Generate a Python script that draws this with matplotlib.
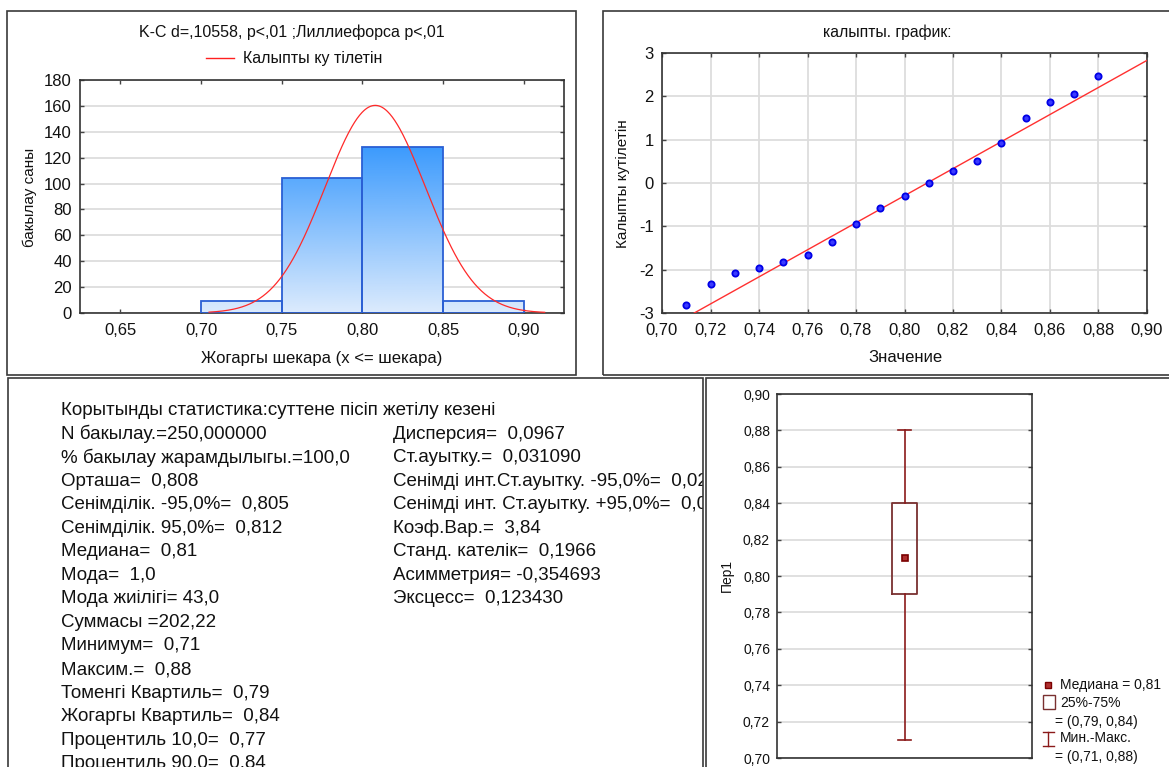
import numpy as np
import matplotlib
matplotlib.use('Agg')
import matplotlib.pyplot as plt
from matplotlib.patches import Rectangle
from matplotlib.lines import Line2D
from matplotlib.colors import LinearSegmentedColormap
from matplotlib.ticker import FuncFormatter

# ---------------- data ----------------
bin_edges = [0.70, 0.75, 0.80, 0.85, 0.90]
bin_counts = [9, 104, 128, 9]
mean_val = 0.808
std_val = 0.03109
n_obs = 250
curve_range = [0.705, 0.913]

qq_values = [0.71, 0.72, 0.73, 0.74, 0.75, 0.76, 0.77, 0.78, 0.79,
             0.80, 0.81, 0.82, 0.83, 0.84, 0.85, 0.86, 0.87, 0.88]
qq_expected = [-2.81, -2.32, -2.07, -1.96, -1.83, -1.67, -1.35, -0.94, -0.58,
               -0.29, -0.01, 0.27, 0.51, 0.92, 1.50, 1.86, 2.06, 2.47]
qq_line_x = [0.7133, 0.90]
qq_line_z = [-3.0, 2.83]

box_min, box_q1, box_med, box_q3, box_max = 0.71, 0.79, 0.81, 0.84, 0.88

stats_title = "Корытынды статистика:суттене пісіп жетілу кезені"
stats_left = ["N бакылау.=250,000000",
              "% бакылау жарамдылыгы.=100,0",
              "Орташа=  0,808",
              "Сенімділік. -95,0%=  0,805",
              "Сенімділік. 95,0%=  0,812",
              "Медиана=  0,81",
              "Мода=  1,0",
              "Мода жиілігі= 43,0",
              "Суммасы =202,22",
              "Минимум=  0,71",
              "Максим.=  0,88",
              "Томенгі Квартиль=  0,79",
              "Жогаргы Квартиль=  0,84",
              "Процентиль 10,0=  0,77",
              "Процентиль 90,0=  0,84"]
stats_right = ["Дисперсия=  0,0967",
               "Ст.ауытку.=  0,031090",
               "Сенімді инт.Ст.ауытку. -95,0%=  0,029",
               "Сенімді инт. Ст.ауытку. +95,0%=  0,034",
               "Коэф.Вар.=  3,84",
               "Станд. кателік=  0,1966",
               "Асимметрия= -0,354693",
               "Эксцесс=  0,123430"]

# ---------------- layout helpers ----------------
W, H = 1169, 767
DPI = 100
plt.rcParams['font.family'] = ['Liberation Sans', 'DejaVu Sans']
plt.rcParams['axes.unicode_minus'] = False

fig = plt.figure(figsize=(W / DPI, H / DPI), dpi=DPI)
fig.patch.set_facecolor('white')


def ax_px(l, t, r, b):
    return fig.add_axes([l / W, 1 - b / H, (r - l) / W, (b - t) / H])


def ftext(x, y, s, **kw):
    return fig.text(x / W, 1 - y / H, s, **kw)


def frame(l, t, r, b):
    fig.add_artist(Rectangle((l / W, 1 - b / H), (r - l) / W, (b - t) / H,
                             transform=fig.transFigure, fill=False,
                             ec='#3a3a3a', lw=1.2))


def comma(fmt):
    return FuncFormatter(lambda v, p: fmt.format(v).replace('.', ','))


def style_axes(ax, labelsize):
    for s in ax.spines.values():
        s.set_color('#333333')
        s.set_linewidth(1.2)
    ax.tick_params(direction='in', length=3, width=1, color='#444444',
                   top=True, right=True, labelsize=labelsize, labelcolor='#111111')


TXT = '#111111'

# panel frames
frame(7, 11, 576, 375)
frame(603, 11, 1180, 375)
frame(8, 378, 703, 780)
frame(706, 378, 1180, 780)

# ---------------- panel 1: histogram ----------------
ax1 = ax_px(80, 80, 564, 313)
cmap = LinearSegmentedColormap.from_list('g', ['#dcebfd', '#3d9bfd'])
cmax = max(bin_counts)
for x0, x1, c in zip(bin_edges[:-1], bin_edges[1:], bin_counts):
    grad = np.linspace(0, c, 200).reshape(-1, 1)
    ax1.imshow(grad, extent=(x0, x1, 0, c), origin='lower', aspect='auto',
               cmap=cmap, vmin=0, vmax=cmax, zorder=2)
ax1.bar(bin_edges[:-1], bin_counts, width=np.diff(bin_edges), align='edge',
        fill=False, edgecolor='#2a5fd4', lw=1.3, zorder=3)
bw = bin_edges[1] - bin_edges[0]
xs = np.linspace(curve_range[0], curve_range[1], 400)
ys = n_obs * bw * np.exp(-0.5 * ((xs - mean_val) / std_val) ** 2) / (std_val * np.sqrt(2 * np.pi))
ax1.plot(xs, ys, color='#ff2a2a', lw=0.9, zorder=4)
ax1.set_xlim(0.625, 0.925)
ax1.set_ylim(0, 180)
ax1.set_xticks([0.65, 0.70, 0.75, 0.80, 0.85, 0.90])
ax1.set_yticks(np.arange(0, 181, 20))
ax1.xaxis.set_major_formatter(comma('{:.2f}'))
ax1.yaxis.grid(True, color='#dddddd', lw=1.3)
ax1.set_axisbelow(True)
style_axes(ax1, 12)
ax1.tick_params(axis='x', pad=7)
ax1.tick_params(axis='y', pad=6)

ftext(292, 32, "K-C d=,10558, p<,01 ;Лиллиефорса p<,01", ha='center', va='center',
      fontsize=11.5, color=TXT)
fig.add_artist(Line2D([206 / W, 234 / W], [1 - 58 / H, 1 - 58 / H], color='#ff2020', lw=1))
ftext(243, 58, "Калыпты ку тілетін", ha='left', va='center', fontsize=11.5, color=TXT)
ftext(30, 197, "бакылау саны", rotation=90, ha='center', va='center', fontsize=11, color=TXT)
ftext(322, 358, "Жогаргы шекара (x <= шекара)", ha='center', va='center', fontsize=12, color=TXT)

# ---------------- panel 2: normal probability plot ----------------
ax2 = ax_px(662, 53, 1147, 313)
ax2.plot(qq_line_x, qq_line_z, color='#ff3030', lw=1, zorder=3)
ax2.plot(qq_values, qq_expected, 'o', ms=4.5, mfc='#3a3aff', mec='#0000e6', mew=1.3, zorder=4)
ax2.set_xlim(0.70, 0.90)
ax2.set_ylim(-3, 3)
ax2.set_xticks(np.round(np.arange(0.70, 0.901, 0.02), 2))
ax2.set_yticks(range(-3, 4))
ax2.xaxis.set_major_formatter(comma('{:.2f}'))
ax2.grid(True, color='#dddddd', lw=1.3)
ax2.set_axisbelow(True)
style_axes(ax2, 12)
ax2.tick_params(axis='x', pad=7)
ax2.tick_params(axis='y', pad=6)

ftext(887, 32, "калыпты. график:", ha='center', va='center', fontsize=11.3, color=TXT)
ftext(623, 184, "Калыпты кутілетін", rotation=90, ha='center', va='center', fontsize=11, color=TXT)
ftext(905, 358, "Значение", ha='center', va='center', fontsize=12, color=TXT)

# ---------------- panel 3: descriptive statistics text ----------------
axT = ax_px(9, 379, 703, 767)
axT.set_xlim(9, 703)
axT.set_ylim(767, 379)
axT.axis('off')
y0, dy = 410.5, 23.55
FS = 13.5
axT.text(61, y0, stats_title, ha='left', va='center', fontsize=FS, color=TXT, clip_on=True)
for i, s in enumerate(stats_left):
    axT.text(61, y0 + dy * (i + 1), s, ha='left', va='center', fontsize=FS, color=TXT, clip_on=True)
for i, s in enumerate(stats_right):
    axT.text(393, y0 + dy * (i + 1), s, ha='left', va='center', fontsize=FS, color=TXT, clip_on=True)

# ---------------- panel 4: box plot ----------------
ax4 = ax_px(777, 394, 1032, 758)
box_color = '#7a3030'
whisk_color = '#8b1a1a'
ax4.bxp([dict(med=box_med, q1=box_q1, q3=box_q3, whislo=box_min, whishi=box_max, fliers=[])],
        positions=[0.5], widths=0.1, capwidths=0.048, showfliers=False,
        boxprops=dict(color=box_color, lw=1.3),
        whiskerprops=dict(color=whisk_color, lw=1.2),
        capprops=dict(color=whisk_color, lw=1.2),
        medianprops=dict(visible=False), zorder=3)
ax4.plot([0.5], [box_med], 's', ms=4.5, mfc='#b03030', mec='#7a0000', mew=1.2, zorder=4)
ax4.set_xlim(0, 1)
ax4.set_ylim(0.70, 0.90)
ax4.set_yticks(np.round(np.arange(0.70, 0.901, 0.02), 2))
ax4.set_xticks([])
ax4.yaxis.grid(True, color='#dddddd', lw=1.3)
ax4.yaxis.set_major_formatter(comma('{:.2f}'))
ax4.set_axisbelow(True)
style_axes(ax4, 10)
ax4.tick_params(axis='y', pad=5, length=3)

ftext(727, 575, "Пер1", rotation=90, ha='center', va='center', fontsize=10, color=TXT)


def f2(v):
    return f"{v:.2f}".replace('.', ',')


fig.add_artist(Line2D([1048 / W], [1 - 685 / H], marker='s', ms=4, mfc='#b03030',
                      mec='#7a0000', mew=1, transform=fig.transFigure))
ftext(1060, 685, f"Медиана = {f2(box_med)}", ha='left', va='center', fontsize=10, color=TXT)
fig.add_artist(Rectangle((1043 / W, 1 - 709 / H), 12 / W, 14 / H, transform=fig.transFigure,
                         fill=False, ec=box_color, lw=1))
ftext(1060, 703, "25%-75%", ha='left', va='center', fontsize=10, color=TXT)
ftext(1055, 722, f"= ({f2(box_q1)}, {f2(box_q3)})", ha='left', va='center', fontsize=10, color=TXT)
fig.add_artist(Line2D([1048 / W, 1048 / W], [1 - 732 / H, 1 - 746 / H], color=whisk_color, lw=1))
fig.add_artist(Line2D([1043 / W, 1054 / W], [1 - 732 / H, 1 - 732 / H], color=whisk_color, lw=1))
fig.add_artist(Line2D([1043 / W, 1054 / W], [1 - 746 / H, 1 - 746 / H], color=whisk_color, lw=1))
ftext(1060, 738, "Мин.-Макс.", ha='left', va='center', fontsize=10, color=TXT)
ftext(1055, 757, f"= ({f2(box_min)}, {f2(box_max)})", ha='left', va='center', fontsize=10, color=TXT)

fig.savefig('out.png', dpi=DPI, facecolor='white')
